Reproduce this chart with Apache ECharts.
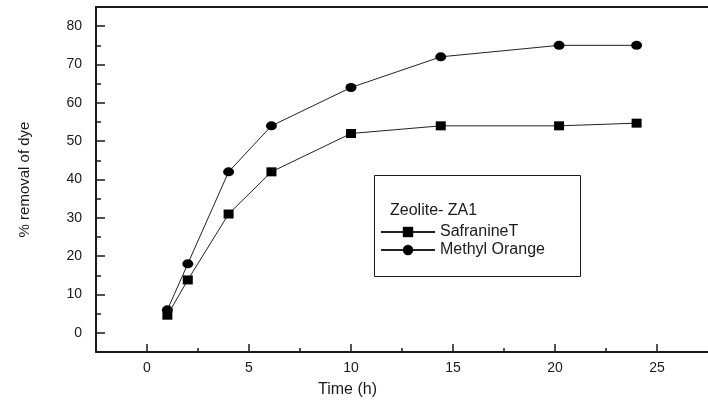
<!DOCTYPE html>
<html>
<head>
<meta charset="utf-8">
<script src="https://cdn.jsdelivr.net/npm/echarts@6/dist/echarts.min.js"></script>
<style>
  html, body { margin: 0; padding: 0; background: #fff; }
  #chart { width: 708px; height: 410px; }
</style>
</head>
<body>
<div id="chart"></div>
<script>
// Dye removal over time on zeolite ZA1
const timeHours    = [1, 2, 4, 6.1, 10, 14.4, 20.2, 24];
const safranineT   = [4.6, 13.8, 31, 42, 52, 54, 54, 54.7];
const methylOrange = [6, 18, 42, 54, 64, 72, 75, 75];

// Tick positions
const yMajorTicks = [0, 10, 20, 30, 40, 50, 60, 70, 80];
const yMinorTicks = [5, 15, 25, 35, 45, 55, 65, 75];
const xMajorTicks = [0, 5, 10, 15, 20, 25];
const xMinorTicks = [2.5, 7.5, 12.5, 17.5, 22.5];

const FONT = '"Liberation Sans", Arial, sans-serif';
const INK = '#1a1a1a';

const pairs = (ys) => timeHours.map((t, i) => [t, ys[i]]);

const chart = echarts.init(document.getElementById('chart'), null, { renderer: 'canvas' });

const xRange = { min: -2.5, max: 27.5 };
const yRange = { min: -5, max: 85 };

chart.setOption({
  animation: false,
  backgroundColor: '#fff',
  grid: { left: 96, top: 7, width: 619, bottom: 58, containLabel: false },
  xAxis: [
    {
      type: 'value', position: 'bottom', ...xRange,
      axisLine: { show: true, onZero: false, lineStyle: { color: INK, width: 2 } },
      axisTick: { show: true, inside: true, length: 8, customValues: xMajorTicks, lineStyle: { color: INK, width: 1.5 } },
      axisLabel: { show: true, customValues: xMajorTicks, margin: 9, color: INK, fontFamily: FONT, fontSize: 14 },
      splitLine: { show: false }
    },
    {
      type: 'value', position: 'bottom', ...xRange,
      axisLine: { show: false, onZero: false },
      axisTick: { show: true, inside: true, length: 4, customValues: xMinorTicks, lineStyle: { color: INK, width: 1.5 } },
      axisLabel: { show: false },
      splitLine: { show: false }
    },
    {
      type: 'value', position: 'top', ...xRange,
      axisLine: { show: true, onZero: false, lineStyle: { color: INK, width: 2 } },
      axisTick: { show: false },
      axisLabel: { show: false },
      splitLine: { show: false }
    }
  ],
  yAxis: [
    {
      type: 'value', position: 'left', ...yRange,
      name: '% removal of dye',
      nameLocation: 'middle',
      nameGap: 64,
      nameTextStyle: { color: INK, fontFamily: FONT, fontSize: 15 },
      axisLine: { show: true, onZero: false, lineStyle: { color: INK, width: 2 } },
      axisTick: { show: true, inside: true, length: 9, customValues: yMajorTicks, lineStyle: { color: INK, width: 1.5 } },
      axisLabel: { show: true, customValues: yMajorTicks, margin: 14, color: INK, fontFamily: FONT, fontSize: 14 },
      splitLine: { show: false }
    },
    {
      type: 'value', position: 'left', ...yRange,
      axisLine: { show: false, onZero: false },
      axisTick: { show: true, inside: true, length: 5, customValues: yMinorTicks, lineStyle: { color: INK, width: 1.5 } },
      axisLabel: { show: false },
      splitLine: { show: false }
    }
  ],
  legend: {
    orient: 'vertical',
    left: 380,
    top: 224,
    padding: 0,
    itemWidth: 54,
    itemHeight: 13,
    itemGap: 2,
    data: ['SafranineT', 'Methyl Orange'],
    textStyle: { color: INK, fontFamily: FONT, fontSize: 16 }
  },
  graphic: [
    {
      type: 'rect', silent: true,
      shape: { x: 374.5, y: 175.5, width: 206, height: 101 },
      style: { fill: 'none', stroke: INK, lineWidth: 1 }
    },
    {
      type: 'text', silent: true, left: 390, top: 203,
      style: { text: 'Zeolite- ZA1', fill: INK, font: '16px ' + FONT }
    },
    {
      type: 'text', silent: true, left: 318, top: 382,
      style: { text: 'Time (h)', fill: INK, font: '16px ' + FONT }
    }
  ],
  series: [
    {
      name: 'Methyl Orange', type: 'line', xAxisIndex: 0, yAxisIndex: 0,
      data: pairs(methylOrange),
      symbol: 'circle', symbolSize: [11, 9],
      itemStyle: { color: '#000' },
      lineStyle: { color: '#222', width: 1 },
      z: 2
    },
    {
      name: 'SafranineT', type: 'line', xAxisIndex: 0, yAxisIndex: 0,
      data: pairs(safranineT),
      symbol: 'rect', symbolSize: [10, 9],
      itemStyle: { color: '#000' },
      lineStyle: { color: '#222', width: 1 },
      z: 3
    }
  ]
});
</script>
</body>
</html>
